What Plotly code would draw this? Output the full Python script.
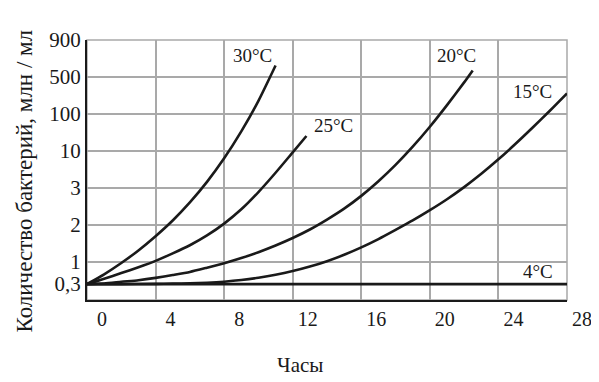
import numpy as np
import plotly.graph_objects as go

# ---- data: hours vs bacteria (millions per ml) ----
hours_30 = [0, 1, 2, 3, 4, 5, 6, 7, 8, 9, 10, 11]
count_30 = [0.3, 0.51, 0.94, 1.24, 1.62, 2.10, 2.56, 3.66, 7.89, 33.9, 177, 600]

hours_25 = [0, 1, 2, 3, 4, 5, 6, 7, 8, 9, 10, 11, 12, 12.8]
count_25 = [0.3, 0.40, 0.545, 0.75, 1.02, 1.173, 1.367, 1.643, 2.029, 2.373, 2.868,
            4.92, 9.55, 25.4]

hours_20 = [0, 1, 2, 3, 4, 5, 6, 7, 8, 9, 10, 11, 12, 13, 14, 15, 16, 17, 18, 19,
            20, 21, 22, 22.5]
count_20 = [0.3, 0.31, 0.34, 0.37, 0.42, 0.49, 0.58, 0.73, 0.93, 1.075, 1.20, 1.36,
            1.565, 1.835, 2.12, 2.39, 2.75, 3.73, 6.34, 13.0, 45.1, 147, 395, 555]

hours_15 = [0, 2, 4, 5, 6, 7, 8, 9, 10, 11, 12, 13, 14, 15, 16, 17, 18, 19, 20, 21,
            22, 23, 24, 25, 26, 27, 28]
count_15 = [0.3, 0.3, 0.303, 0.307, 0.313, 0.324, 0.342, 0.373, 0.422, 0.496, 0.607,
            0.775, 1.013, 1.142, 1.312, 1.533, 1.821, 2.10, 2.35, 2.65, 3.08, 4.75,
            7.61, 15.6, 42.9, 115, 245]

hours_4 = [0, 28]
count_4 = [0.3, 0.3]

series_labels = ["30°C", "25°C", "20°C", "15°C", "4°C"]

x_ticks = [0, 4, 8, 12, 16, 20, 24, 28]
y_tick_values = [0.3, 1, 2, 3, 10, 100, 500, 900]
y_tick_text = ["0,3", "1", "2", "3", "10", "100", "500", "900"]
# the original chart uses an uneven value axis: these are the tick slots
y_tick_slots = [-0.6, 0, 1, 2, 3, 4, 5, 6]


def to_axis(values):
    return np.interp(np.log10(values), np.log10(y_tick_values), y_tick_slots)


FONT = "Liberation Serif"
INK = "#1a1a1a"
GRID = "#a9a9a9"

fig = go.Figure()
series = [
    (hours_30, count_30),
    (hours_25, count_25),
    (hours_20, count_20),
    (hours_15, count_15),
    (hours_4, count_4),
]
for (hx, cy), name in zip(series, series_labels):
    fig.add_trace(go.Scatter(
        x=hx, y=to_axis(cy), mode="lines", name=name,
        line=dict(color=INK, width=2.6, shape="spline", smoothing=0.6),
        showlegend=False, hoverinfo="skip",
    ))

# curve labels (position in hours / axis slot)
label_pos = [(9.67, 5.59), (14.35, 3.69), (21.58, 5.59), (25.99, 4.62), (26.31, -0.27)]
for name, (lx, ly) in zip(series_labels, label_pos):
    fig.add_annotation(x=lx, y=ly, text=name, showarrow=False,
                       xanchor="center", yanchor="middle",
                       font=dict(family=FONT, size=19, color=INK))

fig.add_annotation(xref="paper", yref="paper", x=0.444, y=-0.25, text="Часы",
                   showarrow=False, xanchor="center", yanchor="middle",
                   font=dict(family=FONT, size=21, color=INK))
fig.add_annotation(xref="paper", yref="paper", x=-0.131, y=0.456,
                   text="Количество бактерий, млн / мл", textangle=-90,
                   showarrow=False, xanchor="center", yanchor="middle",
                   font=dict(family=FONT, size=23, color=INK))

fig.add_shape(type="rect", xref="paper", yref="paper", x0=0, x1=1, y0=0, y1=1,
              line=dict(color=GRID, width=1.5), layer="below")

fig.update_layout(
    # page body adds an 8px offset, so the figure is drawn 8px smaller
    width=591, height=374,
    margin=dict(l=79, r=32, t=32, b=82),
    paper_bgcolor="white", plot_bgcolor="white",
    xaxis=dict(range=[0, 28], tickvals=x_ticks, showgrid=True, gridcolor=GRID,
               gridwidth=1.5, zeroline=False, showline=True, linecolor=INK,
               linewidth=2, ticks="", ticklen=0, ticklabelshift=15,
               automargin=False,
               tickfont=dict(family=FONT, size=20, color=INK)),
    yaxis=dict(range=[-1.03, 6], tickvals=y_tick_slots, ticktext=y_tick_text,
               showgrid=True, gridcolor=GRID, gridwidth=1.5, zeroline=False,
               showline=True, linecolor=INK, linewidth=2, ticks="", ticklen=0,
               ticklabelstandoff=0, automargin=False,
               tickfont=dict(family=FONT, size=21, color=INK)),
)

fig.write_html("out.html")
